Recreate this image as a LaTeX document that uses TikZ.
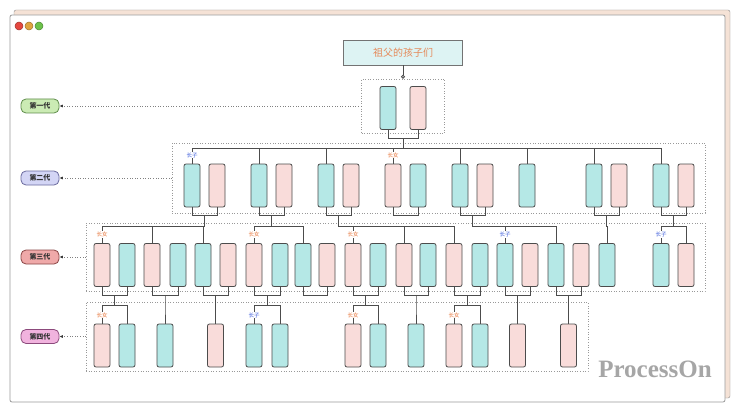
\documentclass[tikz,border=0pt]{standalone}
\usepackage{fontspec}
\newfontfamily\cjk{Noto Sans CJK SC}
\newfontfamily\wmfont{Liberation Serif}
\usetikzlibrary{arrows.meta,calc}
\definecolor{boyfill}{HTML}{B5E8E6}
\definecolor{girlfill}{HTML}{F9DCDA}
\definecolor{backcard}{HTML}{F5E2D6}
\definecolor{titlefill}{HTML}{DDF3F3}
\definecolor{titletext}{HTML}{E58A5A}
\definecolor{sonblue}{HTML}{3B5BDB}
\definecolor{dauorange}{HTML}{E8753A}
\definecolor{gonefill}{HTML}{CBEBB4}
\definecolor{goneline}{HTML}{5E8C4A}
\definecolor{gtwofill}{HTML}{D3D5F5}
\definecolor{gtwoline}{HTML}{6A6A9E}
\definecolor{gthreefill}{HTML}{EFA9A9}
\definecolor{gthreeline}{HTML}{8A4545}
\definecolor{gfourfill}{HTML}{F1B3DE}
\definecolor{gfourline}{HTML}{8C4A7C}
\definecolor{lightred}{HTML}{E5473F}
\definecolor{lightorange}{HTML}{E0A43F}
\definecolor{lightgreen}{HTML}{6CC24A}
\tikzset{
  person/.style={draw=black!70, line width=0.8pt, rounded corners=2pt,
    minimum width=16pt, minimum height=43pt, inner sep=0pt},
  boy/.style={person, fill=boyfill},
  girl/.style={person, fill=girlfill},
  link/.style={draw=black!70, line width=0.9pt},
  grp/.style={draw=black!40, dotted, line width=0.6pt, inner sep=0pt},
  tag/.style={font=\cjk\fontsize{5.5}{6}\selectfont, fill=white, inner sep=0.6pt},
  son/.style={tag, text=sonblue},
  dau/.style={tag, text=dauorange},
  genlab/.style={line width=0.8pt, rounded corners=5pt, minimum width=38pt,
    minimum height=14pt, inner sep=0pt, text=black!80,
    font=\cjk\bfseries\fontsize{7}{8}\selectfont},
  title/.style={draw=black!55, line width=0.7pt, fill=titlefill, text=titletext,
    minimum width=119pt, minimum height=25pt, font=\cjk\fontsize{10}{11}\selectfont},
}
\begin{document}
\begin{tikzpicture}[x=1pt, y=-1pt]
  \useasboundingbox (0,0) rectangle (740,412);
  % window
  \draw[draw=black!45, fill=backcard, rounded corners=2pt] (14,10) rectangle (730,398);
  \draw[draw=black!40, fill=white, rounded corners=2pt, line width=0.8pt] (10,15) rectangle (725,402);
  \foreach \x/\c in {19/lightred, 29/lightorange, 39/lightgreen}
    \draw[fill=\c, draw=\c!70!black, line width=0.5pt] (\x,26) circle (4pt);

  % groups
  \node[grp, minimum width=83pt, minimum height=54pt] (grp1) at (403,106) {};
  \node[grp, minimum width=533pt, minimum height=70pt] (grp2) at (438.5,178) {};
  \node[grp, minimum width=619pt, minimum height=68pt] (grp3) at (395.5,257) {};
  \node[grp, minimum width=502pt, minimum height=69pt] (grp4) at (337,336.5) {};

  \node[title] (top) at (403,52.5) {祖父的孩子们};
  \draw[link, -{Circle[open, length=4pt, width=4pt, fill=white]}] (top) -- (grp1.north);

  % generations
  \node[boy] (a1) at (388,108) {};
  \node[girl] (a2) at (418,108) {};
  \foreach \x/\s [count=\i] in {192/boy, 217/girl, 259/boy, 284/girl, 326/boy, 351/girl,
      393/girl, 418/boy, 460/boy, 485/girl, 527/boy, 594/boy, 619/girl, 661/boy, 686/girl}
    \node[\s] (b\i) at (\x,185.5) {};
  \foreach \x/\s [count=\i] in {102/girl, 127/boy, 152/girl, 178/boy, 203/boy, 228/girl,
      254/girl, 280/boy, 303/boy, 327/girl, 353/girl, 378/boy, 404/girl, 428/boy, 454/girl,
      480/boy, 505/boy, 530/girl, 556/boy, 581/girl, 607/boy, 661/boy, 686/girl}
    \node[\s] (c\i) at (\x,265) {};
  \foreach \x/\s [count=\i] in {102/girl, 127/boy, 165/boy, 215.5/girl, 254/boy, 280/boy,
      353/girl, 378/boy, 416/boy, 454/girl, 480/boy, 517.5/girl, 568.5/girl}
    \node[\s] (d\i) at (\x,345.5) {};

  % couples
  \foreach \p/\q in {a1/a2, b1/b2, b3/b4, b5/b6, b7/b8, b9/b10, b12/b13, b14/b15,
      c1/c2, c3/c4, c5/c6, c7/c8, c9/c10, c11/c12, c13/c14, c15/c16, c17/c18, c19/c20}
    \draw[link] (\p.south) -- ++(0,8.5) -| (\q.south);

  % children
  \foreach \p/\q/\kids in {a1/a2/{b1,b3,b5,b7,b9,b11,b12,b14},
      b1/b2/{c1,c3,c5}, b3/b4/{c7,c9}, b5/b6/{c11,c13,c15}, b9/b10/{c17,c19},
      b12/b13/{c21}, b14/b15/{c22,c23},
      c1/c2/{d1,d2}, c3/c4/{d3}, c5/c6/{d4}, c7/c8/{d5,d6}, c11/c12/{d7,d8},
      c13/c14/{d9}, c15/c16/{d10,d11}, c17/c18/{d12}, c19/c20/{d13}}{
    \coordinate (m) at ($(\p.south)!.5!(\q.south)+(0,8.5)$);
    \foreach \k in \kids
      \draw[link] (m) -- ++(0,10.5) -| (\k.north);
  }

  \foreach \k in {b1, c17, c22, d5}
    \node[son] at ($(\k.north)+(0,-8.5)$) {长子};
  \foreach \k in {b7, c1, c7, c11, d1, d7, d10}
    \node[dau] at ($(\k.north)+(0,-8.5)$) {长女};

  % generation labels
  \node[genlab, fill=gonefill, draw=goneline] (lab1) at (40,106) {第一代};
  \node[genlab, fill=gtwofill, draw=gtwoline] (lab2) at (40,178) {第二代};
  \node[genlab, fill=gthreefill, draw=gthreeline] (lab3) at (40,257) {第三代};
  \node[genlab, fill=gfourfill, draw=gfourline] (lab4) at (40,336.5) {第四代};
  \foreach \i in {1,...,4}
    \draw[dotted, draw=black!50, line width=0.6pt,
      -{Latex[length=3.5pt, width=3pt, color=black!80]}] (grp\i.west) -- (lab\i.east);

  \node[font=\wmfont\bfseries\fontsize{25}{25}\selectfont, text=black!35, anchor=base]
    (mark) at (655,377) {ProcessOn};
\end{tikzpicture}
\end{document}
